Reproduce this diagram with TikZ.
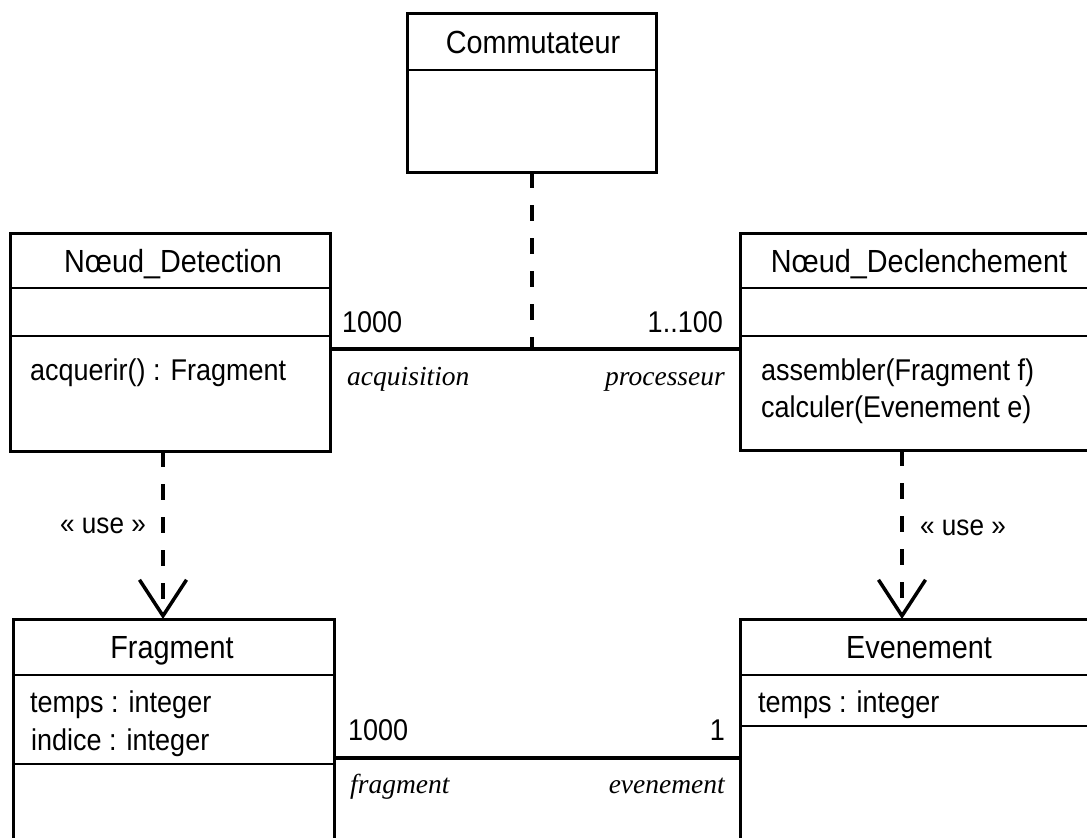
\documentclass[tikz,border=0pt]{standalone}
\usepackage{fontspec}
\setmainfont[FakeStretch=0.9]{Liberation Sans}
\newfontfamily\seriffont{Liberation Serif}
\usetikzlibrary{arrows.meta}
\begin{document}
\begin{tikzpicture}[x=1pt,y=-1pt,
  classbox/.style={draw, line width=3pt, rectangle, inner sep=0pt, outer sep=0pt},
  divider/.style={line width=2.5pt},
  assoc/.style={line width=4pt},
  dep/.style={line width=4pt, dash pattern=on 16pt off 17pt,
    -{Straight Barb[length=36pt,width=47pt,line width=3.5pt]}},
  anchorline/.style={line width=4pt, dash pattern=on 16pt off 17pt},
  cname/.style={inner sep=0pt, anchor=base, font=\fontsize{32}{36}\selectfont},
  member/.style={inner sep=0pt, anchor=base west, font=\fontsize{30}{34}\selectfont},
  mult/.style={inner sep=0pt, font=\fontsize{30}{34}\selectfont},
  role/.style={inner sep=0pt, font=\seriffont\itshape\fontsize{27.5}{31}\selectfont},
  stereo/.style={inner sep=0pt, anchor=base west, font=\fontsize{29}{33}\selectfont}
]
\useasboundingbox (0,0) rectangle (1087,838);
\clip (0,0) rectangle (1087,838);

% class boxes
\node[classbox, minimum width=249pt, minimum height=159pt] (comm) at (531.5,92.5) {};
\node[classbox, minimum width=320pt, minimum height=218pt] (det) at (170,342) {};
\node[classbox, minimum width=358pt, minimum height=217pt] (dec) at (919,341.5) {};
\node[classbox, minimum width=321pt, minimum height=281pt] (frag) at (173.5,759.5) {};
\node[classbox, minimum width=358pt, minimum height=281pt] (even) at (919,759.5) {};

% dividers
\draw[divider] (comm.west |- 0,70) -- (comm.east |- 0,70);
\draw[divider] (det.west |- 0,288) -- (det.east |- 0,288);
\draw[divider] (det.west |- 0,336) -- (det.east |- 0,336);
\draw[divider] (dec.west |- 0,288) -- (dec.east |- 0,288);
\draw[divider] (dec.west |- 0,336) -- (dec.east |- 0,336);
\draw[divider] (frag.west |- 0,675) -- (frag.east |- 0,675);
\draw[divider] (frag.west |- 0,764) -- (frag.east |- 0,764);
\draw[divider] (even.west |- 0,675) -- (even.east |- 0,675);
\draw[divider] (even.west |- 0,726) -- (even.east |- 0,726);

% class texts
\node[cname] (tcomm) at (533,53) {Commutateur};
\node[cname] (tdet) at (173,272) {Nœud\_Detection};
\node[cname] (tdec) at (919,272) {Nœud\_Declenchement};
\node[cname] (tfrag) at (172,658) {Fragment};
\node[cname] (teven) at (919,658) {Evenement};

\node[member] (m1) at (30,380) {acquerir() : Fragment};
\node[member] (m2) at (761,380) {assembler(Fragment f)};
\node[member] (m3) at (761,417) {calculer(Evenement e)};
\node[member] (a1) at (30,712) {temps : integer};
\node[member] (a2) at (31,750) {indice : integer};
\node[member] (a3) at (758,712) {temps : integer};

% associations
\coordinate (j1) at (comm.south |- 0,349);
\draw[assoc] (det.east |- 0,349) -- (dec.west |- 0,349);
\draw[anchorline] (comm.south) -- (j1);
\draw[assoc] (frag.east |- 0,758) -- (even.west |- 0,758);

\node[mult, anchor=base west] (mu1) at (342,332) {1000};
\node[mult, anchor=base east] (mu2) at (723,332) {1..100};
\node[role, anchor=base west] (r1) at (347,385) {acquisition};
\node[role, anchor=base east] (r2) at (725,385) {processeur};
\node[mult, anchor=base west] (mu3) at (348,740) {1000};
\node[mult, anchor=base east] (mu4) at (725,740) {1};
\node[role, anchor=base west] (r3) at (350,793) {fragment};
\node[role, anchor=base east] (r4) at (725,793) {evenement};

% dependencies
\draw[dep] (det.south -| 163,0) -- (frag.north -| 163,0);
\draw[dep] (dec.south -| 902,0) -- (even.north -| 902,0);
\node[stereo] (s1) at (60,533) {« use »};
\node[stereo] (s2) at (920,535) {« use »};
\end{tikzpicture}
\end{document}
